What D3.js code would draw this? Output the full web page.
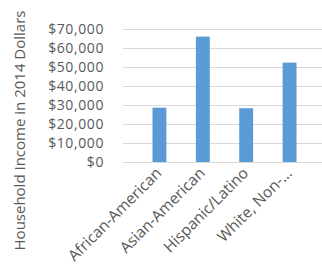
<!DOCTYPE html>
<html>
<head>
<meta charset="utf-8">
<script src="https://cdn.jsdelivr.net/npm/d3@7"></script>
<style>
  body { margin: 0; background: #fff; }
  svg { display: block; }
  text { font-family: "Open Sans", sans-serif; fill: #595959; }
</style>
</head>
<body>
<div id="chart"></div>
<script>
var categories = ['African-American', 'Asian-American', 'Hispanic/Latino', 'White, Non-…']
var incomes = [28600, 66000, 28300, 52300]
var yTicks = [0, 10000, 20000, 30000, 40000, 50000, 60000, 70000]
var yTitle = 'Household Income in 2014 Dollars'

var W = 322, H = 265
var margin = {top: 29, left: 123, bottom: 103, right: -4}
var width = W - margin.left - margin.right
var height = H - margin.top - margin.bottom

var svg = d3.select('#chart')
    .append('svg')
    .attr('width', W)
    .attr('height', H)

var g = svg.append('g')
    .attr('transform', `translate(${margin.left}, ${margin.top})`)

var xScale = d3.scaleBand().domain(categories).range([0, width]).padding(0.68)
var yScale = d3.scaleLinear().domain([0, 70000]).range([height, 0])

// grid
g.append('g')
    .selectAll('line')
    .data(yTicks)
    .enter().append('line')
    .attr('x1', 0)
    .attr('x2', width)
    .attr('y1', d => Math.round(yScale(d)) + 0.5)
    .attr('y2', d => Math.round(yScale(d)) + 0.5)
    .attr('stroke', '#d9d9d9')
    .attr('stroke-width', 1)

// y axis labels
var yAxis = g.append('g')
    .attr('transform', 'translate(-16, 0)')
    .call(d3.axisLeft(yScale).tickValues(yTicks).tickSize(0).tickFormat(d => '$' + d3.format(',')(d)))
yAxis.select('.domain').remove()
yAxis.selectAll('text')
    .style('font-size', '14px')
    .style('letter-spacing', '0.6px')
    .attr('fill', '#595959')

// bars
g.selectAll('rect.bar')
    .data(incomes)
    .enter().append('rect')
    .attr('class', 'bar')
    .attr('x', (d, i) => xScale(categories[i]))
    .attr('y', d => yScale(d))
    .attr('width', xScale.bandwidth())
    .attr('height', d => height - yScale(d))
    .attr('fill', '#5b9bd5')

// x axis
var xAxis = g.append('g')
    .attr('transform', `translate(0, ${height})`)
    .call(d3.axisBottom(xScale).tickSize(0))
xAxis.select('.domain').remove()
xAxis.selectAll('text')
    .style('font-size', '15.5px')
    .attr('fill', '#595959')
    .attr('text-anchor', 'end')
    .attr('dx', 0)
    .attr('dy', 0)
    .attr('transform', 'translate(1, 10) rotate(-45)')

// y title
svg.append('text')
    .attr('transform', `translate(25, ${H / 2 - 2}) rotate(-90)`)
    .attr('text-anchor', 'middle')
    .style('font-size', '15px')
    .text(yTitle)
</script>
</body>
</html>
